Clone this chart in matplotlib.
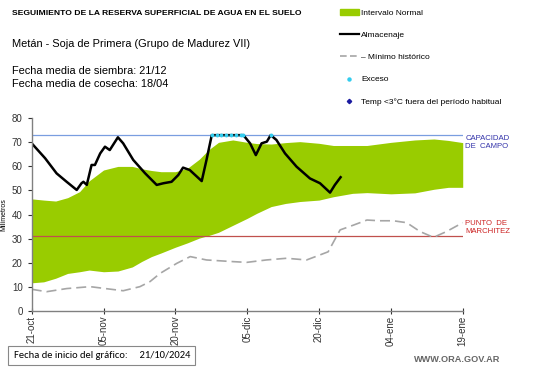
import numpy as np
import matplotlib
matplotlib.use("Agg")
import matplotlib.pyplot as plt
from matplotlib.lines import Line2D
from matplotlib.patches import Patch

plt.rcParams['font.family'] = ['Liberation Sans', 'DejaVu Sans']

# Days since chart start (21/10/2024)
band_days = [0, 2.5, 5, 7.5, 10, 12, 15, 18, 21, 23, 25, 27, 30, 32.5, 35, 37, 39, 42,
             45, 47, 50, 53, 56, 60, 63, 67, 70, 75, 80, 84, 87, 90]
band_upper = [46.5, 46, 45.6, 47, 49.5, 54, 58.5, 60, 60, 59, 58.3, 57.8, 57.8, 59.2, 63, 67,
              70, 71, 70, 69.5, 69.3, 69.9, 70.3, 69.6, 68.7, 68.7, 68.7, 70, 71, 71.4, 70.8, 69.9]
band_lower = [11.6, 12, 13.5, 15.5, 16.2, 16.9, 16.2, 16.5, 18.2, 20.5, 22.5, 24, 26.4, 28.2,
              30.2, 31.3, 32.6, 35.5, 38.4, 40.5, 43.3, 44.6, 45.4, 46, 47.4, 48.8, 49.1, 48.6,
              49, 50.5, 51.3, 51.3]

storage_days = [0, 2.8, 5.2, 7.3, 9.4, 10.4, 10.8, 11.5, 12.5, 13.2, 14.3, 15.3, 16.3, 18,
                19.1, 21.2, 23.7, 26.1, 27.5, 29.2, 30.6, 31.6, 33, 35.5, 36.5, 37.6, 44.2,
                45.6, 46.8, 48, 49.1, 49.9, 51.1, 52.9, 55.3, 58.1, 60.2, 62.3, 63.3, 64.5]
storage = [69.6, 63.4, 57.1, 53.6, 50.2, 53, 53.6, 52.3, 60.6, 60.6, 65.4, 68.2, 66.8, 72.1,
           69.6, 62.7, 57.1, 52.3, 53, 53.6, 56.4, 59.5, 58.5, 53.9, 62.7, 73, 73,
           69.6, 64.7, 69.6, 70.3, 73, 71, 65.4, 59.9, 55, 53, 49.1, 52.3, 55.5]

min_days = [0, 3.1, 7.3, 12.2, 15, 19.1, 22.6, 24.7, 26.8, 30.3, 33.1, 36.5, 42.1, 44.9, 49,
            53.2, 57.4, 60.2, 61.9, 64.4, 67.2, 70, 72.7, 75.5, 78.3, 81.1, 83.9, 86.6, 90]
min_hist = [8.9, 7.9, 9.2, 10, 9.3, 8.3, 10, 12.1, 15.5, 19.7, 22.5, 21.1, 20.4, 20.1, 21.1,
            21.8, 21.1, 23.2, 24.5, 33.6, 35.6, 37.7, 37.4, 37.4, 36.6, 32.9, 30.5, 32.9, 36.6]

excess_days = [37.6, 38.6, 39.6, 40.6, 41.6, 42.6, 43.6, 44.2, 49.9]
excess = [73] * len(excess_days)

field_capacity = 73
wilting_point = 31

tick_days = [0, 15, 30, 45, 60, 75, 90]
tick_labels = ['21-oct', '05-nov', '20-nov', '05-dic', '20-dic', '04-ene', '19-ene']

fig = plt.figure(figsize=(5.41, 3.68), dpi=100)
ax = fig.add_axes([0.0586, 0.1557, 0.7967, 0.5228])

ax.fill_between(band_days, band_lower, band_upper, color='#99cc00', lw=0)
ax.axhline(field_capacity, color='#7a9ee0', lw=0.9)
ax.axhline(wilting_point, color='#c0504d', lw=0.9)
ax.plot(min_days, min_hist, color='#a6a6a6', lw=1.2, dashes=(6, 3))
ax.plot(storage_days, storage, color='black', lw=1.8)
ax.plot(excess_days, excess, ls='none', marker='o', ms=1.8, color='#33ccee')

ax.set_xlim(0, 90)
ax.set_ylim(0, 80)
ax.set_yticks(range(0, 81, 10))
ax.set_xticks(tick_days)
ax.set_xticklabels(tick_labels, rotation=90, fontsize=7, color='#333333')
ax.tick_params(axis='y', labelsize=7, colors='#333333', length=3, width=0.8)
ax.tick_params(axis='x', direction='inout', length=5, width=0.8, colors='#333333', pad=1)
for s in ['top', 'right']:
    ax.spines[s].set_visible(False)
for s in ['left', 'bottom']:
    ax.spines[s].set_color('#808080')
    ax.spines[s].set_linewidth(1)
ax.set_ylabel('Milímetros', fontsize=5, labelpad=3)

ax.text(1.006, 73 / 80 - 0.04, 'CAPACIDAD\nDE  CAMPO', transform=ax.transAxes,
        fontsize=5.6, color='#3333aa', va='center', ha='left', linespacing=1.25)
ax.text(1.006, 31 / 80 + 0.045, 'PUNTO  DE\nMARCHITEZ', transform=ax.transAxes,
        fontsize=5.6, color='#cc2222', va='center', ha='left', linespacing=1.25)

fig.text(0.022, 0.963, 'SEGUIMIENTO DE LA RESERVA SUPERFICIAL DE AGUA EN EL SUELO',
         fontsize=6.1, fontweight='bold', va='center')
fig.text(0.022, 0.88, 'Metán - Soja de Primera (Grupo de Madurez VII)', fontsize=7.9, va='center')
fig.text(0.022, 0.808, 'Fecha media de siembra: 21/12', fontsize=7.9, va='center')
fig.text(0.022, 0.773, 'Fecha media de cosecha: 18/04', fontsize=7.9, va='center')

handles = [Patch(color='#99cc00'),
           Line2D([], [], color='black', lw=1.6),
           Line2D([], [], color='#a6a6a6', lw=1.2, dashes=(4, 2)),
           Line2D([], [], ls='none', marker='o', ms=2.2, color='#33ccee'),
           Line2D([], [], ls='none', marker='D', ms=2.2, color='#1a1aa0')]
labels = ['Intervalo Normal', 'Almacenaje', '– Mínimo histórico', 'Exceso',
          'Temp <3°C fuera del período habitual']
fig.legend(handles, labels, loc='upper left', bbox_to_anchor=(0.615, 0.995), frameon=False,
           fontsize=6, handlelength=2.2, handletextpad=0.3, labelspacing=1.75,
           handleheight=0.6)

fig.text(0.025, 0.034, 'Fecha de inicio del gráfico:     21/10/2024', fontsize=7.6, va='center',
         family=['Carlito', 'Liberation Sans', 'DejaVu Sans'],
         bbox=dict(boxstyle='square,pad=0.5', fc='white', ec='#888888', lw=0.8))
fig.text(0.925, 0.022, 'WWW.ORA.GOV.AR', fontsize=6.6, color='#666666', ha='right', va='center',
         fontweight='bold')

fig.savefig('out.png', dpi=100)
